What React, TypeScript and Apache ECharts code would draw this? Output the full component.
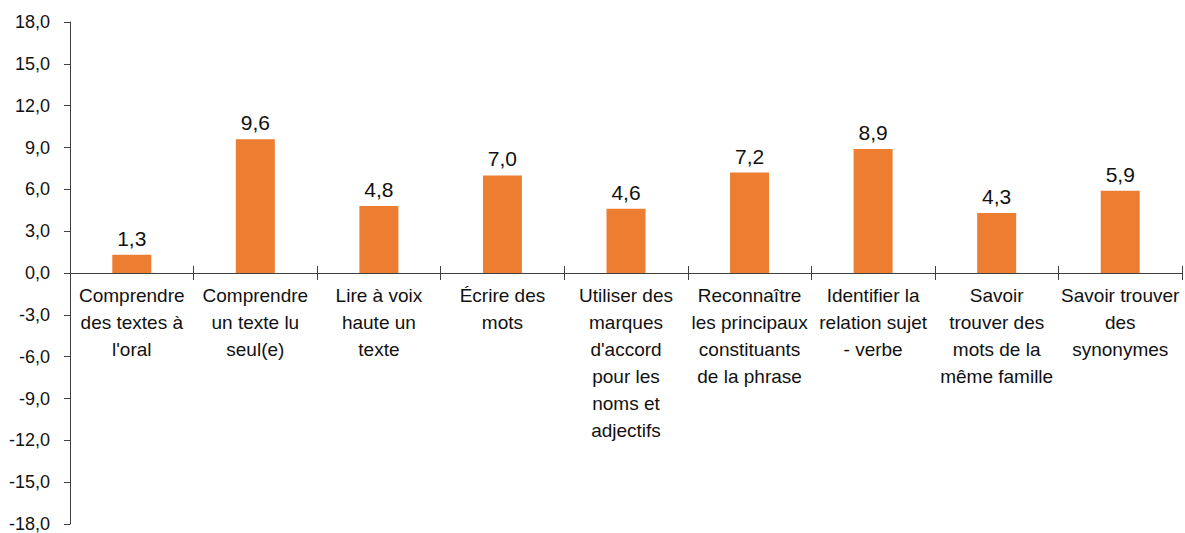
import React, { useEffect, useRef } from "react";
import * as echarts from "echarts";

const categories = [
  "Comprendre\ndes textes à\nl'oral",
  "Comprendre\nun texte lu\nseul(e)",
  "Lire à voix\nhaute un\ntexte",
  "Écrire des\nmots",
  "Utiliser des\nmarques\nd'accord\npour les\nnoms et\nadjectifs",
  "Reconnaître\nles principaux\nconstituants\nde la phrase",
  "Identifier la\nrelation sujet\n- verbe",
  "Savoir\ntrouver des\nmots de la\nmême famille",
  "Savoir trouver\ndes\nsynonymes",
];
const values = [1.3, 9.6, 4.8, 7.0, 4.6, 7.2, 8.9, 4.3, 5.9];
const yMin = -18;
const yMax = 18;
const yStep = 3;

const fmt = (v: number) => v.toFixed(1).replace(".", ",");
const FONT = "'Liberation Sans', Arial, sans-serif";
const AXIS = "#404040";
const TEXT = "#111";

export default function App() {
  const ref = useRef<HTMLDivElement>(null);
  useEffect(() => {
    if (!ref.current) return;
    const chart = echarts.init(ref.current, undefined, { renderer: "svg" });
    const yLabel = { margin: 20, fontSize: 18, color: TEXT, fontFamily: FONT, formatter: (v: number) => fmt(v) };
    chart.setOption({
      animation: false,
      textStyle: { fontFamily: FONT },
      grid: [
        { left: 70, right: 3, top: 22, height: 251, containLabel: false, outerBoundsMode: "none" },
        { left: 70, right: 3, top: 273, height: 251, containLabel: false, outerBoundsMode: "none" },
      ],
      xAxis: [
        {
          type: "category",
          gridIndex: 0,
          data: categories,
          position: "bottom",
          z: 5,
          axisLine: { onZero: false, lineStyle: { color: AXIS, width: 1 } },
          axisTick: { show: true, length: 7, lineStyle: { color: AXIS } },
          axisLabel: {
            interval: 0,
            margin: 9,
            fontSize: 19,
            lineHeight: 27,
            color: TEXT,
            fontFamily: FONT,
            align: "center",
            verticalAlign: "top",
          },
        },
        {
          type: "category",
          gridIndex: 1,
          data: categories,
          position: "top",
          axisLine: { show: false, onZero: false },
          axisTick: { show: true, length: 7, lineStyle: { color: AXIS } },
          axisLabel: { show: false },
          splitLine: { show: false },
        },
      ],
      yAxis: [
        {
          type: "value",
          gridIndex: 0,
          min: 0,
          max: yMax,
          interval: yStep,
          axisLine: { show: true, onZero: false, lineStyle: { color: AXIS, width: 1 } },
          axisTick: { show: true, length: 6, lineStyle: { color: AXIS } },
          splitLine: { show: false },
          axisLabel: yLabel,
        },
        {
          type: "value",
          gridIndex: 1,
          min: yMin,
          max: 0,
          interval: yStep,
          axisLine: { show: true, onZero: false, lineStyle: { color: AXIS, width: 1 } },
          axisTick: { show: true, length: 6, lineStyle: { color: AXIS } },
          splitLine: { show: false },
          axisLabel: { ...yLabel, showMaxLabel: false },
        },
      ],
      series: [
        {
          type: "bar",
          xAxisIndex: 0,
          yAxisIndex: 0,
          data: values,
          barWidth: 39,
          itemStyle: { color: "#ED7D31" },
          label: {
            show: true,
            position: "top",
            distance: 6,
            fontSize: 21,
            color: TEXT,
            fontFamily: FONT,
            formatter: (p: any) => fmt(p.value),
          },
        },
      ],
    });
    return () => chart.dispose();
  }, []);
  return (
    <div
      ref={ref}
      style={{ position: "absolute", left: 0, top: 0, width: 1185, height: 533 }}
    />
  );
}
